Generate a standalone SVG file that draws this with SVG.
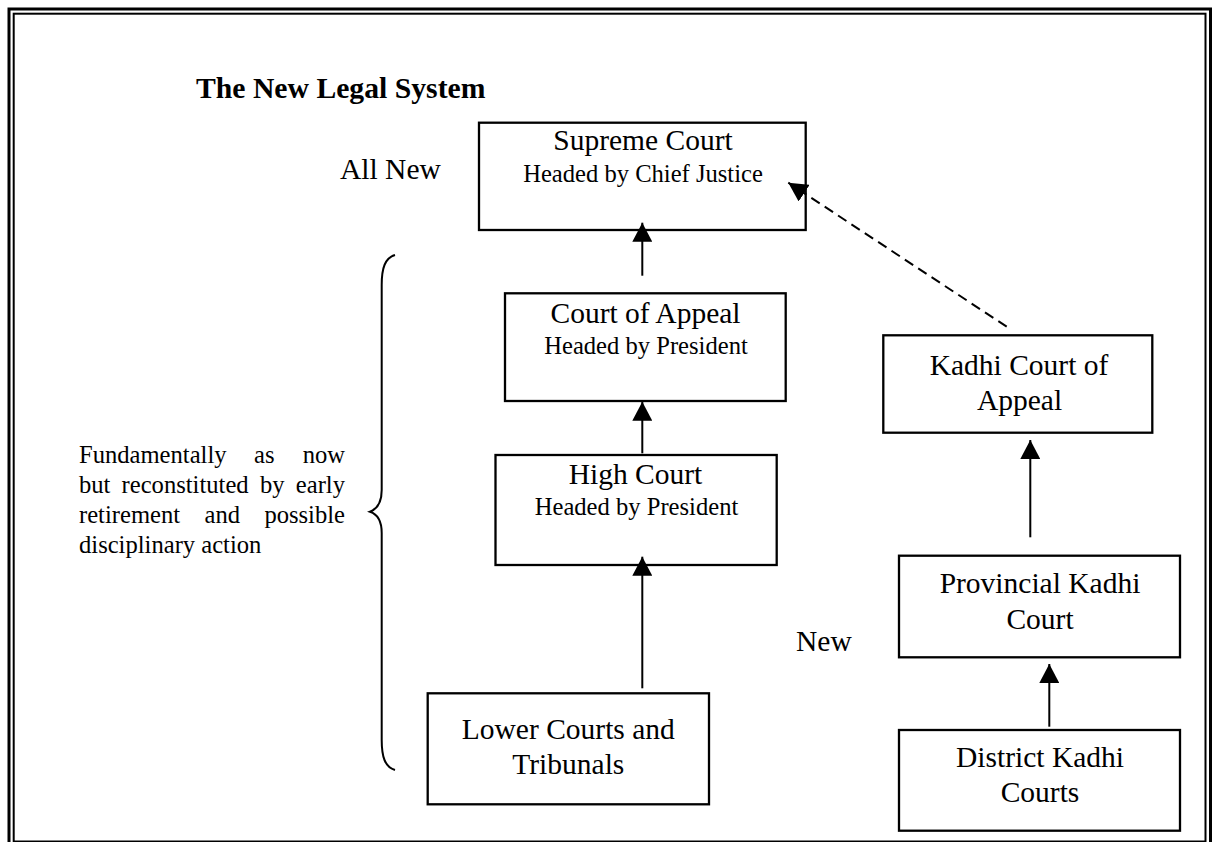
<svg xmlns="http://www.w3.org/2000/svg" width="1215" height="842" viewBox="0 0 1215 842">
<style>
text{font-family:"Liberation Serif","Times New Roman",serif;fill:#000}
.m{font-size:29.5px;text-anchor:middle}
.s{font-size:24.6px;text-anchor:middle}
.l{font-size:29.5px}
.side{font-size:24.6px}
.title{font-size:29.7px;font-weight:bold}
.box{fill:#fff;stroke:#000;stroke-width:2.3}
.con{stroke:#000;stroke-width:2;fill:none}
</style>
<defs>
<marker id="ah" markerUnits="userSpaceOnUse" markerWidth="20" markerHeight="20" refX="19" refY="10" orient="auto">
<path d="M0,0 L19,10 L0,20 Z" fill="#000"/>
</marker>
</defs>
<rect x="0" y="0" width="1215" height="842" fill="#fff"/>
<g id="border" fill="none" stroke="#000">
<rect x="9" y="9" width="1201.5" height="845" stroke-width="3"/>
<rect x="13.7" y="13.7" width="1191.8" height="827.8" stroke-width="2"/>
</g>
<g id="title"><text class="title" x="196" y="98">The New Legal System</text></g>
<g id="label-all-new"><text class="l" x="340" y="179">All New</text></g>
<g id="label-new"><text class="l" x="796" y="651">New</text></g>
<g id="side-note">
<text class="side" x="79" y="463.3">Fundamentally</text>
<text class="side" x="254" y="463.3">as</text>
<text class="side" x="345" y="463.3" text-anchor="end">now</text>
<text class="side" x="79" y="493.3">but</text>
<text class="side" x="121.6" y="493.3">reconstituted</text>
<text class="side" x="260" y="493.3">by</text>
<text class="side" x="345" y="493.3" text-anchor="end">early</text>
<text class="side" x="79" y="523.3">retirement</text>
<text class="side" x="204.5" y="523.3">and</text>
<text class="side" x="345" y="523.3" text-anchor="end">possible</text>
<text class="side" x="79" y="553.3">disciplinary action</text>
</g>
<g id="brace">
<path d="M395,255 C385,258 381.7,268 381.7,285 L381.7,490 C381.7,503 377,509 370,511.7 C377,514 381.7,520 381.7,533 L381.7,740 C381.7,757 385,767 395,770" fill="none" stroke="#000" stroke-width="2"/>
</g>
<g id="supreme-court">
<rect class="box" x="479" y="122.7" width="326.7" height="107.3"/>
<text class="m" x="643" y="150">Supreme Court</text>
<text class="s" x="643" y="182.3">Headed by Chief Justice</text>
</g>
<g id="court-of-appeal">
<rect class="box" x="505" y="293.3" width="280.7" height="107.7"/>
<text class="m" x="645.5" y="323.3">Court of Appeal</text>
<text class="s" x="646" y="354">Headed by President</text>
</g>
<g id="high-court">
<rect class="box" x="495.5" y="455" width="281.2" height="110"/>
<text class="m" x="635.5" y="484">High Court</text>
<text class="s" x="636.5" y="515">Headed by President</text>
</g>
<g id="lower-courts">
<rect class="box" x="427.7" y="693.3" width="281.3" height="111"/>
<text class="m" x="568.3" y="739.3">Lower Courts and</text>
<text class="m" x="568.3" y="774.3">Tribunals</text>
</g>
<g id="kadhi-court-of-appeal">
<rect class="box" x="883.3" y="335.3" width="269" height="97.4"/>
<text class="m" x="1019" y="375">Kadhi Court of</text>
<text class="m" x="1019.5" y="410">Appeal</text>
</g>
<g id="provincial-kadhi-court">
<rect class="box" x="899" y="555.7" width="281" height="101.6"/>
<text class="m" x="1040" y="593.3">Provincial Kadhi</text>
<text class="m" x="1040" y="629.3">Court</text>
</g>
<g id="district-kadhi-courts">
<rect class="box" x="899" y="730" width="281" height="100.7"/>
<text class="m" x="1040" y="766.7">District Kadhi</text>
<text class="m" x="1040" y="801.7">Courts</text>
</g>
<g id="connectors">
<line class="con" x1="642.3" y1="275.7" x2="642.3" y2="222.7" marker-end="url(#ah)"/>
<line class="con" x1="642.3" y1="453.3" x2="642.3" y2="401.7" marker-end="url(#ah)"/>
<line class="con" x1="642.3" y1="688.3" x2="642.3" y2="556.7" marker-end="url(#ah)"/>
<line class="con" x1="1030.3" y1="537.3" x2="1030.3" y2="440" marker-end="url(#ah)"/>
<line class="con" x1="1049.3" y1="726.7" x2="1049.3" y2="664" marker-end="url(#ah)"/>
<line class="con" x1="1006.7" y1="326.7" x2="788.3" y2="182.7" stroke-dasharray="10 6" marker-end="url(#ah)"/>
</g>
</svg>
